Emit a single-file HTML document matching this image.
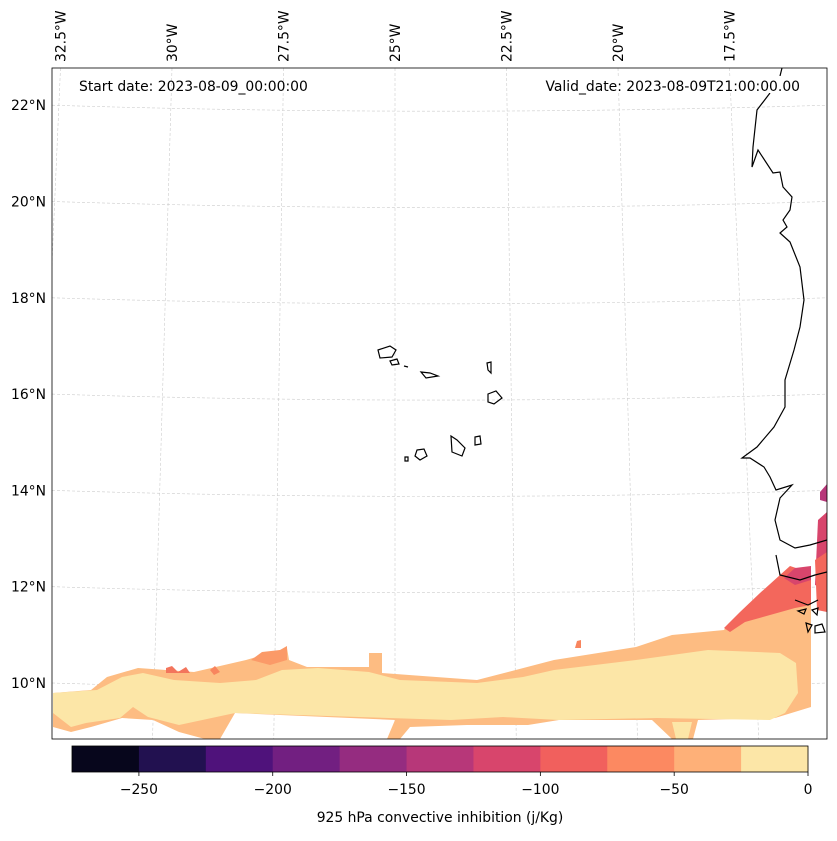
<!DOCTYPE html>
<html><head><meta charset="utf-8"><style>
html,body{margin:0;padding:0;background:#fff}
svg text{font-family:"DejaVu Sans","Liberation Sans",sans-serif;fill:#000}
</style></head><body>
<svg width="837" height="836" viewBox="0 0 837 836">
<defs><clipPath id="mapclip"><rect x="52" y="68" width="775" height="671"/></clipPath></defs>
<g id="grid" stroke="#ccc" stroke-width="0.6" stroke-dasharray="3,2" fill="none" clip-path="url(#mapclip)"></g>
<g clip-path="url(#mapclip)">
<polygon fill="#fdbc82" points="53,693 91,690 107,677 138,668 194,672 246,660 287,648 289,660 307,667 369,667 369,653 382,653 382,673 477,680 554,660 636,647 672,635 724,630 729,623 811,573 811,707 775,718 698,720 693,739 672,739 652,720 559,720 528,725 467,725 410,727 400,739 387,739 395,720 235,713 220,739 205,739 179,732 153,720 122,718 91,727 71,732 53,727"/>
<polygon fill="#f3675c" points="724,628 740,612 760,593 790,566 811,573 811,605 795,608 770,615 745,622 730,632"/>
<polygon fill="#d8456c" points="784,578 795,568 811,566 811,580 795,585"/>
<polygon fill="#f3755c" points="166,668 172,666 178,672 186,667 190,673 166,673"/>
<polygon fill="#f8855e" points="210,670 215,666 220,672 214,675"/>
<polygon fill="#fb9a68" points="251,660 262,652 280,650 287,646 287,660 270,665"/>
<polygon fill="#f8855e" points="577,641 581,640 581,648 575,648"/>
<polygon fill="#fce6a7" points="53,693 97,690 122,677 143,673 174,680 220,683 256,680 282,670 318,668 369,672 400,680 477,683 523,677 554,670 636,660 708,650 780,653 796,663 798,693 785,713 770,720 657,718 559,720 503,717 451,720 235,713 179,725 148,717 133,707 120,718 86,723 71,727 53,713"/>
<polygon fill="#fce6a7" points="672,722 692,722 688,739 676,739"/>
<polygon fill="#b73779" points="820,492 827,484 827,502 820,500"/>
<polygon fill="#d8456c" points="818,520 827,512 827,590 815,585"/>
<polygon fill="#f3675c" points="815,560 827,552 827,612 817,610"/>
</g>
<g fill="none" stroke="#000" stroke-width="1.2" clip-path="url(#mapclip)">
<path d="M782,68 L780,76 M770,93 L757,110 L753,147 L752,167 L758,150 L773,173 L780,172 L783,187 L792,197 L790,210 L783,220 L787,227 L780,233 L790,242 L800,267 L804,300 L800,327 L794,350 L785,380 L785,407 L774,427 L757,447 L742,458 L750,458 L764,467 L770,477 L776,490 L792,485 L780,498 L775,520 L780,540 L795,548 L810,545 L827,540 M776,555 L780,575 L800,580 L815,575 L827,572 M795,600 L808,605 L818,600"/>
<path d="M378,350 L390,346 L396,350 L392,357 L380,358 Z"/>
<path d="M390,361 L397,359 L399,364 L392,365 Z"/>
<path d="M404,366 L408,367"/>
<path d="M421,372 L430,373 L438,376 L426,378 Z"/>
<path d="M487,363 L491,362 L491,373 L488,370 Z"/>
<path d="M488,394 L496,391 L502,398 L494,404 L488,402 Z"/>
<path d="M475,437 L480,436 L481,444 L475,445 Z"/>
<path d="M451,436 L457,440 L465,448 L462,456 L452,452 Z"/>
<path d="M417,450 L424,449 L427,456 L420,460 L415,456 Z"/>
<path d="M405,457 L408,457 L408,461 L405,461 Z"/>
<path d="M798,611 L806,609 L804,614 Z M812,610 L818,608 L817,615 Z M806,623 L812,625 L808,632 Z M815,626 L822,624 L825,632 L815,633 Z"/>
</g>
<rect x="52" y="68" width="775" height="671" fill="none" stroke="#000" stroke-width="0.8"/>
<g id="latlabels" font-size="13.9"></g>
<g id="lonlabels" font-size="13.9"></g>
<rect x="542" y="76" width="262" height="17" fill="#fff"/>
<text x="79" y="91" font-size="13.9">Start date: 2023-08-09_00:00:00</text>
<text x="800" y="91" font-size="13.9" text-anchor="end">Valid_date: 2023-08-09T21:00:00.00</text>
<g id="colorbar"></g>
<text x="440" y="822" font-size="13.9" text-anchor="middle">925 hPa convective inhibition (j/Kg)</text>
</svg>
<script>
const latValues=[22,20,18,16,14,12,10];
const lonValues=[32.5,30,27.5,25,22.5,20,17.5];
const cbLevels=[-275,-250,-225,-200,-175,-150,-125,-100,-75,-50,-25,0];
const cbColors=["#07061c","#221150","#4f127b","#721f81","#952c80","#b73779","#d8456c","#f1605d","#fc8961","#feb078","#fce6a7"];
const cbTicks=[-250,-200,-150,-100,-50,0];
const NS="http://www.w3.org/2000/svg";
function mk(t,a,p){const e=document.createElementNS(NS,t);for(const k in a)e.setAttribute(k,a[k]);p.appendChild(e);return e;}
function latY(v){return 683-(v-10)*48.15;}
function lonTop(v){return 395+(25-v)*44.6;}
function lonBot(v){return 395+(25-v)*48.5;}
const grid=document.getElementById('grid');
latValues.forEach(v=>{const y=latY(v);
 const p=mk('path',{d:`M52,${y} Q440,${y+12} 827,${y}`},grid);
 
 
 const t=mk('text',{x:46,y:y+5,'text-anchor':'end'},document.getElementById('latlabels'));
 t.textContent=v+'°N';
 
 
});
lonValues.forEach(v=>{
 const p=mk('line',{x1:lonTop(v),y1:68,x2:lonBot(v),y2:739},grid);
 
 
 const x=lonTop(v)+5;
 const t=mk('text',{x:x,y:62,transform:`rotate(-90 ${x} 62)`},document.getElementById('lonlabels'));
 t.textContent=v+'°W';
 
 
});
const cb=document.getElementById('colorbar');
function cbX(v){return 72+(v+275)/275*736;}
cbColors.forEach((c,i)=>{
 const r=mk('rect',{x:cbX(cbLevels[i]),y:746,width:cbX(cbLevels[i+1])-cbX(cbLevels[i])+0.5,height:26,fill:c},cb);
 
 
});
const fr=mk('rect',{x:72,y:746,width:736,height:26,fill:'none',stroke:'#000','stroke-width':0.8},cb);


cbTicks.forEach(v=>{const x=cbX(v);
 const l=mk('line',{x1:x,y1:772,x2:x,y2:776,stroke:'#000','stroke-width':0.8},cb);
 
 
 const t=mk('text',{x:x,y:794,'text-anchor':'middle','font-size':13.9},cb);
 t.textContent=v<0?'\u2212'+(-v):String(v);
 
 
});
</script>
</body></html>
